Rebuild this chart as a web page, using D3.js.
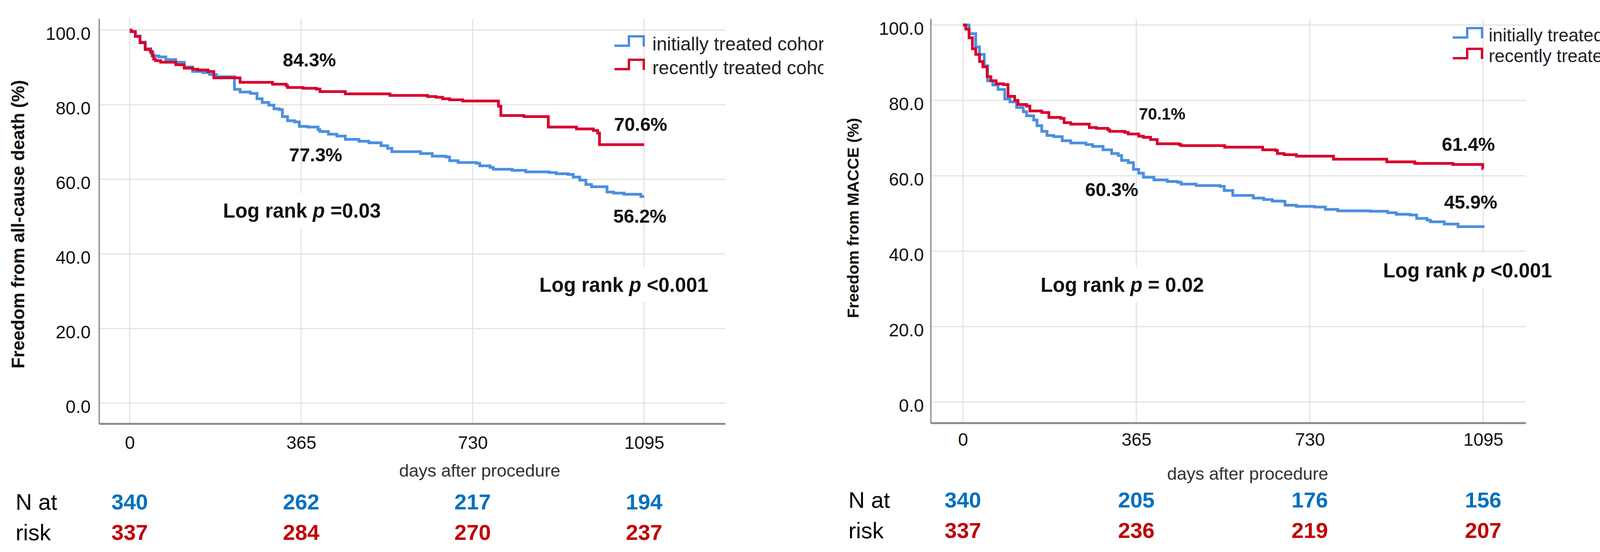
<!DOCTYPE html>
<meta charset="utf-8">
<title>Kaplan-Meier curves</title>
<style>
body { margin: 0; background: #fff; }
text { font-family: "Liberation Sans", Arial, sans-serif; }
</style>
<body>
<script src="https://cdn.jsdelivr.net/npm/d3@7"></script>
<script>

var xTicks = [0, 365, 730, 1095],
    yTicks = [0, 20, 40, 60, 80, 100],
    cohorts = ["initially treated cohort", "recently treated cohort"];

// freedom from all-cause death, [day, %]
var deathInitial = [[0,100],[3,99.6],[12,98.4],[22,96.8],[33,95.0],[45,93.8],[50,93.1],[62,92.8],[77,92.1],[98,91.4],[116,90.1],[134,88.9],[156,88.6],[170,88.1],[185,87.5],[223,84.1],[235,83.4],[257,83.0],[271,81.6],[282,80.6],[296,79.9],[307,78.9],[318,78.7],[325,76.8],[336,75.7],[351,75.4],[361,74.2],[379,74.0],[401,73.3],[405,72.8],[423,72.1],[441,71.6],[459,70.7],[488,70.2],[509,69.8],[535,69.0],[549,68.3],[558,67.4],[619,66.9],[644,66.2],[673,66.0],[681,65.0],[699,64.5],[738,64.3],[745,63.6],[767,63.2],[774,62.7],[814,62.4],[843,62.0],[893,61.8],[908,61.5],[933,61.3],[944,60.6],[958,59.8],[971,58.6],[983,58.0],[1016,56.6],[1030,56.3],[1052,56.0],[1088,55.4],[1095,55.4]];
var deathRecent = [[0,100],[3,99.6],[12,98.3],[22,96.6],[33,94.8],[44,94.3],[48,93.1],[51,92.2],[55,91.8],[66,91.4],[98,90.7],[116,89.8],[134,89.5],[145,89.3],[167,88.9],[179,87.2],[235,86.0],[304,85.5],[333,85.1],[336,84.6],[369,84.4],[397,84.2],[405,83.5],[459,82.9],[554,82.5],[634,82.2],[652,82.0],[666,81.6],[681,81.3],[709,81.0],[785,79.6],[790,77.1],[839,76.8],[891,74.0],[951,73.5],[987,73.1],[996,72.4],[1000,69.3],[1095,69.3]];

// freedom from MACCE
var macceInitial = [[0,100],[13,97.7],[27,94.2],[35,92.2],[45,89.2],[52,85.2],[63,84.1],[74,82.9],[88,80.4],[99,79.6],[113,78.1],[127,77.0],[134,75.9],[149,74.8],[156,73.3],[166,71.8],[177,70.7],[191,70.4],[209,69.3],[227,68.7],[259,68.3],[273,67.8],[295,66.9],[313,65.9],[327,65.4],[334,64.1],[348,63.5],[359,61.7],[370,60.7],[380,59.6],[402,58.9],[430,58.5],[452,58.3],[459,57.8],[491,57.4],[541,57.2],[550,56.1],[568,54.8],[611,54.1],[633,53.7],[651,53.3],[673,53.2],[678,52.2],[702,51.9],[740,51.7],[763,51.1],[789,50.7],[857,50.6],[894,50.2],[912,49.8],[941,49.6],[955,48.7],[977,48.2],[984,47.8],[1013,47.2],[1042,46.5],[1085,46.5],[1095,46.2]];
var macceRecent = [[0,100],[6,98.9],[13,96.6],[20,93.7],[27,92.2],[35,90.3],[42,88.9],[51,86.3],[59,85.2],[70,84.4],[85,84.2],[95,81.1],[109,80.0],[116,78.9],[134,78.5],[141,77.2],[166,76.8],[181,75.5],[206,75.2],[213,74.1],[227,73.7],[266,72.8],[281,72.6],[305,72.2],[309,71.8],[341,71.5],[348,71.1],[370,70.5],[380,70.2],[395,69.6],[409,68.5],[455,68.3],[459,68.0],[551,67.6],[631,66.9],[658,66.7],[662,65.9],[676,65.6],[702,65.2],[780,64.4],[892,63.7],[951,63.3],[1031,63.0],[1094,61.9],[1095,61.9]];

var deathAtRiskInitial = [340, 262, 217, 194],
    deathAtRiskRecent = [337, 284, 270, 237],
    macceAtRiskInitial = [340, 205, 176, 156],
    macceAtRiskRecent = [337, 236, 219, 207];

var deathNotes = ["84.3%", "77.3%", "70.6%", "56.2%"],
    macceNotes = ["70.1%", "60.3%", "61.4%", "45.9%"],
    deathLogRank = [" =0.03", " <0.001"],
    macceLogRank = [" = 0.02", " <0.001"];

var curveColors = ["#4b8fe0", "#d7002c"],
    riskColors = ["#0070c0", "#c00000"];

var svg = d3.select("body").append("svg")
    .attr("width", 4285)
    .attr("height", 1413);

var panels = [
  {
    id: "death", series: [deathInitial, deathRecent],
    risk: [deathAtRiskInitial, deathAtRiskRecent],
    notes: deathNotes, logRank: deathLogRank,
    ylabel: "Freedom from all-cause death (%)",
    xr: [332, 1649], yr: [1032, 77],
    frame: { l: 254, r: 1857, t: 48, b: 1085 }, clipR: 2108,
    ylab: { x: 46, y: 574, size: 46 },
    tickRight: 232, tickY: 1133, xlab: { x: 1228, y: 1206 },
    nat: { x: 40, y: [1284, 1362] },
    legend: { x: 1573, y: [93, 153], textX: 1670, textY: [112, 173], size: 48 },
    notePos: [[792, 153, 48], [808, 396, 48], [1640, 318, 48], [1638, 553, 48]],
    logPos: [[773, 539], [1597, 729]]
  },
  {
    id: "macce", series: [macceInitial, macceRecent],
    risk: [macceAtRiskInitial, macceAtRiskRecent],
    notes: macceNotes, logRank: macceLogRank,
    ylabel: "Freedom from MACCE (%)",
    xr: [2465, 3797], yr: [1029, 64],
    frame: { l: 2383, r: 3906, t: 48, b: 1083 }, clipR: 4285,
    ylab: { x: 2184, y: 558, size: 41 },
    tickRight: 2365, tickY: 1125, xlab: { x: 3194, y: 1214 },
    nat: { x: 2172, y: [1279, 1357] },
    legend: { x: 3719, y: [72, 125], textX: 3811, textY: [90, 143], size: 46 },
    notePos: [[2975, 291, 42], [2846, 485, 48], [3759, 369, 48], [3765, 517, 48]],
    logPos: [[2873, 729], [3757, 692]]
  }
];

panels.forEach(drawPanel);

function drawPanel(p) {
  var clipId = "clip-" + p.id;
  svg.append("clipPath").attr("id", clipId)
    .append("rect")
      .attr("x", p.frame.l - 300).attr("y", 0)
      .attr("width", p.clipR - p.frame.l + 300).attr("height", 1413);

  var g = svg.append("g").attr("clip-path", "url(#" + clipId + ")");

  var x = d3.scaleLinear().domain([0, 1095]).range(p.xr),
      y = d3.scaleLinear().domain([0, 100]).range(p.yr);

  // grid
  g.append("g").selectAll("line").data(yTicks).enter().append("line")
      .attr("x1", p.frame.l).attr("x2", p.frame.r)
      .attr("y1", function(d) { return y(d); })
      .attr("y2", function(d) { return y(d); })
      .attr("stroke", "#e3e3e3").attr("stroke-width", 3);
  g.append("g").selectAll("line").data(xTicks).enter().append("line")
      .attr("x1", function(d) { return x(d); })
      .attr("x2", function(d) { return x(d); })
      .attr("y1", p.frame.t).attr("y2", p.frame.b)
      .attr("stroke", "#e3e3e3").attr("stroke-width", 3);

  // axis lines
  g.append("line")
      .attr("x1", p.frame.l).attr("x2", p.frame.l)
      .attr("y1", p.frame.t).attr("y2", p.frame.b)
      .attr("stroke", "#808080").attr("stroke-width", 3);
  g.append("line")
      .attr("x1", p.frame.l).attr("x2", p.frame.r)
      .attr("y1", p.frame.b).attr("y2", p.frame.b)
      .attr("stroke", "#8a8a8a").attr("stroke-width", 5);

  // tick labels
  var yAxis = g.append("g")
      .attr("transform", "translate(" + p.tickRight + ",8)")
      .call(d3.axisLeft(y).tickValues(yTicks).tickFormat(d3.format(".1f")).tickSize(0).tickPadding(0));
  yAxis.select(".domain").remove();
  yAxis.selectAll("text")
      .attr("font-family", "Liberation Sans, Arial, sans-serif")
      .attr("font-size", 46).attr("fill", "#111").attr("dy", "0.35em");

  var xAxis = g.append("g")
      .attr("transform", "translate(0," + p.tickY + ")")
      .call(d3.axisBottom(x).tickValues(xTicks).tickFormat(d3.format("d")).tickSize(0).tickPadding(0));
  xAxis.select(".domain").remove();
  xAxis.selectAll("text")
      .attr("font-family", "Liberation Sans, Arial, sans-serif")
      .attr("font-size", 46).attr("fill", "#111").attr("dy", "0.35em");

  // axis titles
  g.append("text")
      .attr("transform", "translate(" + p.ylab.x + "," + p.ylab.y + ") rotate(-90)")
      .attr("text-anchor", "middle").attr("dy", "0.35em")
      .attr("font-size", p.ylab.size).attr("font-weight", "bold").attr("fill", "#111")
      .text(p.ylabel);
  g.append("text")
      .attr("x", p.xlab.x).attr("y", p.xlab.y)
      .attr("text-anchor", "middle").attr("dy", "0.3em")
      .attr("font-size", 45).attr("fill", "#333")
      .text("days after procedure");

  // survival steps
  var line = d3.line()
      .x(function(d) { return x(d[0]); })
      .y(function(d) { return y(d[1]); })
      .curve(d3.curveStepAfter);
  g.append("g").selectAll("path").data(p.series).enter().append("path")
      .attr("d", line)
      .attr("fill", "none")
      .attr("stroke", function(d, i) { return curveColors[i]; })
      .attr("stroke-width", 7);

  // legend
  var lg = g.append("g");
  cohorts.forEach(function(name, i) {
    var sx = p.legend.x, hy = p.legend.y[i], ly = hy + 24;
    lg.append("path")
        .attr("d", "M" + sx + "," + ly + "H" + (sx + 37) + "V" + hy + "H" + (sx + 75) + "V" + (ly + 2))
        .attr("fill", "none").attr("stroke", curveColors[i]).attr("stroke-width", 6);
    lg.append("text")
        .attr("x", p.legend.textX).attr("y", p.legend.textY[i]).attr("dy", "0.35em")
        .attr("font-size", p.legend.size).attr("fill", "#222")
        .text(name);
  });

  // percentage notes
  p.notes.forEach(function(t, i) {
    var pos = p.notePos[i];
    g.append("text")
        .attr("x", pos[0]).attr("y", pos[1]).attr("dy", "0.35em")
        .attr("text-anchor", "middle")
        .attr("font-size", pos[2]).attr("font-weight", "bold").attr("fill", "#111")
        .text(t);
  });

  // log rank boxes
  p.logRank.forEach(function(t, i) {
    var pos = p.logPos[i];
    var box = g.append("rect").attr("fill", "#fff");
    var txt = g.append("text")
        .attr("x", pos[0]).attr("y", pos[1]).attr("dy", "0.35em")
        .attr("text-anchor", "middle")
        .attr("font-size", 51).attr("font-weight", "bold").attr("fill", "#111");
    txt.append("tspan").text("Log rank ");
    txt.append("tspan").attr("font-style", "italic").text("p");
    txt.append("tspan").text(t);
    var bb = txt.node().getBBox();
    box.attr("x", bb.x - 18).attr("y", bb.y - 16)
       .attr("width", bb.width + 36).attr("height", bb.height + 32);
  });

  // numbers at risk
  g.append("g").selectAll("text").data(["N at", "risk"]).enter().append("text")
      .attr("x", p.nat.x)
      .attr("y", function(d, i) { return p.nat.y[i]; })
      .attr("dy", "0.36em")
      .attr("font-family", "Lato, 'Noto Sans', sans-serif")
      .attr("font-size", 58).attr("fill", "#000")
      .text(function(d) { return d; });
  p.risk.forEach(function(row, r) {
    g.append("g").selectAll("text").data(row).enter().append("text")
        .attr("x", function(d, i) { return x(xTicks[i]); })
        .attr("y", p.nat.y[r]).attr("dy", "0.36em")
        .attr("text-anchor", "middle")
        .attr("font-family", "Lato, 'Noto Sans', sans-serif")
        .attr("font-size", 56).attr("font-weight", "bold")
        .attr("fill", riskColors[r])
        .text(function(d) { return d; });
  });
}

</script>
</body>
</html>
